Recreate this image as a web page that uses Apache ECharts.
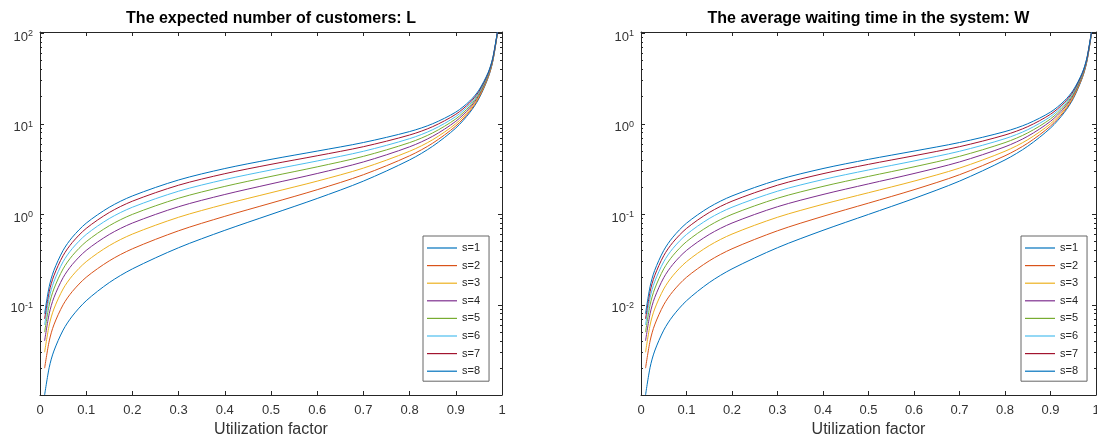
<!DOCTYPE html>
<html lang="en">
<head>
    <meta charset="UTF-8">
    <title>M/M/s queue: L and W</title>
    <style>
        * {
            margin: 0;
            padding: 0;
        }

        #chart {
            width: 1097px;
            height: 439px;
            background: #fff;
        }
    </style>
</head>
<body>
    <div id="chart"></div>
    <script src="https://cdn.jsdelivr.net/npm/echarts@6/dist/echarts.min.js"></script>
    <script>
        // utilization factor (x values)
        var rho = [0.01, 0.02, 0.03, 0.05, 0.07, 0.1, 0.15, 0.2, 0.3, 0.4, 0.5, 0.6, 0.7, 0.8, 0.85, 0.9, 0.93, 0.95, 0.97, 0.98, 0.99];

        // expected number of customers L, one array per number of servers
        var L1 = [0.0101, 0.0204, 0.0309, 0.0526, 0.0753, 0.1111, 0.1765, 0.25, 0.4286, 0.6667, 1.0, 1.5, 2.333, 4.0, 5.667, 9.0, 13.29, 19.0, 32.33, 49.0, 99.0];
        var L2 = [0.0200, 0.0400, 0.0601, 0.1003, 0.1407, 0.2020, 0.3069, 0.4167, 0.6593, 0.9524, 1.333, 1.875, 2.745, 4.444, 6.126, 9.474, 13.77, 19.49, 32.83, 49.49, 99.5];
        var L3 = [0.03, 0.06, 0.09, 0.150, 0.2101, 0.3004, 0.452, 0.606, 0.930, 1.294, 1.737, 2.332, 3.249, 4.989, 6.689, 10.05, 14.36, 20.08, 33.43, 50.10, 100.1];
        var L4 = [0.04, 0.08, 0.12, 0.20, 0.280, 0.4001, 0.6006, 0.8024, 1.216, 1.660, 2.174, 2.831, 3.800, 5.586, 7.306, 10.69, 15.01, 20.74, 34.09, 50.77, 100.8];
        var L5 = [0.05, 0.10, 0.15, 0.25, 0.35, 0.50, 0.7502, 1.001, 1.509, 2.040, 2.630, 3.354, 4.382, 6.216, 7.959, 11.36, 15.69, 21.43, 34.78, 51.47, 101.5];
        var L6 = [0.06, 0.12, 0.18, 0.30, 0.42, 0.60, 0.9001, 1.2004, 1.805, 2.427, 3.099, 3.895, 4.984, 6.871, 8.635, 12.06, 16.40, 22.15, 35.51, 52.19, 102.2];
        var L7 = [0.07, 0.14, 0.21, 0.35, 0.49, 0.70, 1.050, 1.400, 2.103, 2.818, 3.576, 4.448, 5.602, 7.540, 9.333, 12.78, 17.13, 22.89, 36.22, 52.94, 103.0];
        var L8 = [0.08, 0.16, 0.24, 0.40, 0.56, 0.80, 1.200, 1.600, 2.402, 3.213, 4.059, 5.009, 6.230, 8.231, 10.05, 13.51, 17.88, 23.64, 37.02, 53.71, 103.7];

        // average waiting time in the system W
        var W1 = [0.00101, 0.00204, 0.00309, 0.00526, 0.00753, 0.01111, 0.01765, 0.025, 0.04286, 0.06667, 0.1, 0.15, 0.2333, 0.4, 0.5667, 0.9, 1.329, 1.9, 3.233, 4.9, 9.9];
        var W2 = [0.002, 0.004, 0.00601, 0.01003, 0.01407, 0.0202, 0.03069, 0.04167, 0.06593, 0.09524, 0.1333, 0.1875, 0.2745, 0.4444, 0.6126, 0.9474, 1.377, 1.949, 3.283, 4.949, 9.95];
        var W3 = [0.003, 0.006, 0.009, 0.015, 0.02101, 0.03004, 0.0452, 0.0606, 0.093, 0.1294, 0.1737, 0.2332, 0.3249, 0.4989, 0.6689, 1.005, 1.436, 2.008, 3.343, 5.01, 10.01];
        var W4 = [0.004, 0.008, 0.012, 0.02, 0.028, 0.04001, 0.06006, 0.08024, 0.1216, 0.166, 0.2174, 0.2831, 0.38, 0.5586, 0.7306, 1.069, 1.501, 2.074, 3.409, 5.077, 10.08];
        var W5 = [0.005, 0.01, 0.015, 0.025, 0.035, 0.05, 0.07502, 0.1001, 0.1509, 0.204, 0.263, 0.3354, 0.4382, 0.6216, 0.7959, 1.136, 1.569, 2.143, 3.478, 5.147, 10.15];
        var W6 = [0.006, 0.012, 0.018, 0.03, 0.042, 0.06, 0.09001, 0.12, 0.1805, 0.2427, 0.3099, 0.3895, 0.4984, 0.6871, 0.8635, 1.206, 1.64, 2.215, 3.551, 5.219, 10.22];
        var W7 = [0.007, 0.014, 0.021, 0.035, 0.049, 0.07, 0.105, 0.14, 0.2103, 0.2818, 0.3576, 0.4448, 0.5602, 0.754, 0.9333, 1.278, 1.713, 2.289, 3.622, 5.294, 10.3];
        var W8 = [0.008, 0.016, 0.024, 0.04, 0.056, 0.08, 0.12, 0.16, 0.2402, 0.3213, 0.4059, 0.5009, 0.623, 0.8231, 1.005, 1.351, 1.788, 2.364, 3.702, 5.371, 10.37];

        var sNames = ['s=1', 's=2', 's=3', 's=4', 's=5', 's=6', 's=7', 's=8'];
        var lineColors = ['#0072BD', '#D95319', '#EDB120', '#7E2F8E', '#77AC30', '#4DBEEE', '#A2142F', '#0072BD'];

        var Lsets = [L1, L2, L3, L4, L5, L6, L7, L8];
        var Wsets = [W1, W2, W3, W4, W5, W6, W7, W8];

        var FONT = '"Liberation Sans", Arial, Helvetica, sans-serif';
        var INK = '#262626';

        function pairs(ys) {
            return rho.map(function (x, i) { return [x, ys[i]]; });
        }

        // tight limits, like matlab "axis tight"
        function extentOf(sets) {
            var all = [].concat.apply([], sets);
            return [Math.min.apply(null, all), Math.max.apply(null, all)];
        }

        // decade ticks and 2..9 minor ticks
        function logTicks(lo, hi) {
            var major = [], minor = [];
            for (var e = lo; e <= hi; e++) {
                major.push(parseFloat(Math.pow(10, e).toPrecision(6)));
                if (e < hi) {
                    for (var k = 2; k <= 9; k++) {
                        minor.push(parseFloat((k * Math.pow(10, e)).toPrecision(6)));
                    }
                }
            }
            return { major: major, minor: minor };
        }

        function xAxesFor(gridIndex) {
            var bottom = {
                type: 'value', gridIndex: gridIndex, position: 'bottom',
                min: 0, max: 1, interval: 0.1,
                axisLine: { onZero: false, lineStyle: { color: INK, width: 1 } },
                axisTick: { inside: true, length: 4, lineStyle: { color: INK } },
                axisLabel: {
                    margin: 9, fontSize: 13, color: '#333', fontFamily: FONT,
                    formatter: function (v) {
                        if (v === 0) return '0';
                        if (Math.abs(v - 1) < 1e-9) return '1';
                        return v.toFixed(1);
                    }
                },
                splitLine: { show: false },
                name: 'Utilization factor', nameLocation: 'middle', nameGap: 25,
                nameTextStyle: { fontSize: 16, color: '#333', fontFamily: FONT }
            };
            var top = {
                type: 'value', gridIndex: gridIndex, position: 'top',
                min: 0, max: 1, interval: 0.1,
                axisLine: { onZero: false, lineStyle: { color: INK, width: 1 } },
                axisTick: { inside: true, length: 4, lineStyle: { color: INK } },
                axisLabel: { show: false },
                splitLine: { show: false }
            };
            return [bottom, top];
        }

        function yAxesFor(gridIndex, ext) {
            var t = logTicks(Math.floor(Math.log10(ext[0])), Math.ceil(Math.log10(ext[1])));
            function base(pos) {
                return {
                    type: 'log', logBase: 10, gridIndex: gridIndex, position: pos,
                    min: ext[0], max: ext[1],
                    splitLine: { show: false },
                    axisLine: { show: true, lineStyle: { color: INK, width: 1 } },
                    axisLabel: { show: false }
                };
            }
            var leftMajor = base('left');
            leftMajor.axisTick = { inside: true, length: 4, customValues: t.major, lineStyle: { color: INK } };
            leftMajor.axisLabel = {
                show: true, customValues: t.major, margin: 7, padding: [8, 0, 0, 0],
                formatter: function (v) {
                    return '{b|10}{s|' + Math.round(Math.log10(v)) + '}';
                },
                rich: {
                    b: { fontSize: 13, color: '#333', fontFamily: FONT, lineHeight: 16 },
                    s: { fontSize: 9, color: '#333', fontFamily: FONT, verticalAlign: 'top' }
                }
            };
            var leftMinor = base('left');
            leftMinor.axisLine = { show: false };
            leftMinor.axisTick = { inside: true, length: 2, customValues: t.minor, lineStyle: { color: INK } };

            var rightMajor = base('right');
            rightMajor.axisTick = { inside: true, length: 4, customValues: t.major, lineStyle: { color: INK } };
            var rightMinor = base('right');
            rightMinor.axisLine = { show: false };
            rightMinor.axisTick = { inside: true, length: 2, customValues: t.minor, lineStyle: { color: INK } };

            return [leftMajor, leftMinor, rightMajor, rightMinor];
        }

        function legendAt(left) {
            return {
                data: sNames, orient: 'vertical', left: left, top: 236,
                icon: 'rect', itemWidth: 30, itemHeight: 1.2, itemGap: 3.6,
                padding: [5, 9, 3, 4],
                backgroundColor: '#fff', borderColor: '#666', borderWidth: 1,
                textStyle: { fontSize: 11, lineHeight: 14, color: INK, fontFamily: FONT }
            };
        }

        function seriesFor(sets, xIdx, yIdx) {
            return sets.map(function (ys, i) {
                return {
                    name: sNames[i], type: 'line',
                    xAxisIndex: xIdx, yAxisIndex: yIdx,
                    data: pairs(ys),
                    showSymbol: false, symbol: 'none',
                    smooth: 0.3,
                    lineStyle: { width: 1, color: lineColors[i] },
                    itemStyle: { color: lineColors[i] },
                    animation: false
                };
            });
        }

        var Lext = extentOf(Lsets);
        var Wext = extentOf(Wsets);

        var option = {
            backgroundColor: '#fff',
            animation: false,
            title: [
                {
                    text: 'The expected number of customers: L', left: 271, top: 11, textAlign: 'center', padding: 0,
                    textStyle: { fontSize: 16, fontWeight: 'bold', color: '#000', fontFamily: FONT }
                },
                {
                    text: 'The average waiting time in the system: W', left: 868.5, top: 11, textAlign: 'center', padding: 0,
                    textStyle: { fontSize: 16, fontWeight: 'bold', color: '#000', fontFamily: FONT }
                }
            ],
            legend: [legendAt(423), legendAt(1021)],
            grid: [
                { left: 40, top: 32, width: 462, height: 363, outerBoundsMode: 'none', containLabel: false },
                { left: 641, top: 32, width: 455, height: 363, outerBoundsMode: 'none', containLabel: false }
            ],
            xAxis: xAxesFor(0).concat(xAxesFor(1)),
            yAxis: yAxesFor(0, Lext).concat(yAxesFor(1, Wext)),
            series: seriesFor(Lsets, 0, 0).concat(seriesFor(Wsets, 2, 4))
        };

        var myChart = echarts.init(document.getElementById('chart'));
        myChart.setOption(option);
    </script>
</body>
</html>
